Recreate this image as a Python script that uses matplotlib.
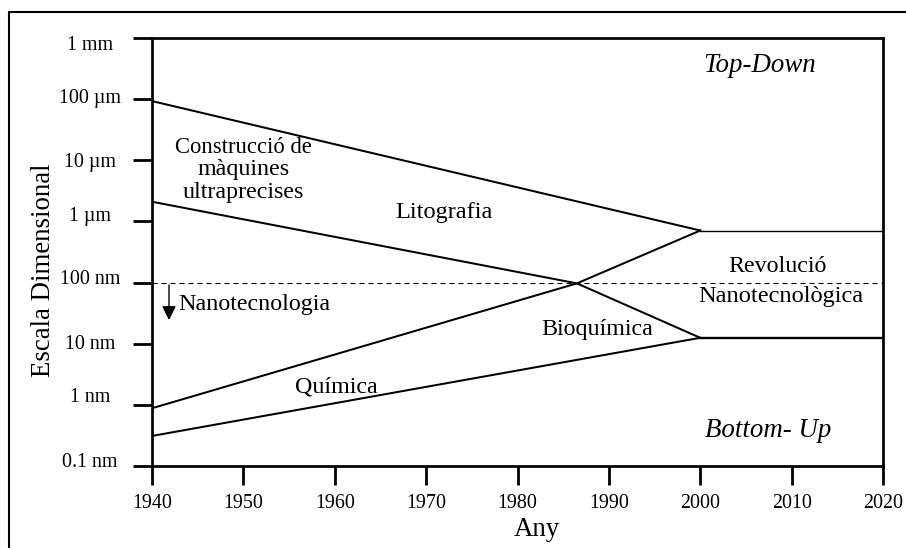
import matplotlib
matplotlib.use("Agg")
import matplotlib.pyplot as plt
import matplotlib.transforms as mtransforms
from matplotlib.lines import Line2D
from matplotlib.ticker import NullLocator

plt.rcParams['font.family'] = ['Liberation Serif', 'DejaVu Serif']

# ---------------- data ----------------
litho_years = [1940, 2000]
litho_nm = [9.3e4, 710]

machining_years = [1940, 1986.5, 2000]
machining_nm = [2100, 97, 12.5]

chem_upper_years = [1940, 1986.5, 2000]
chem_upper_nm = [0.88, 97, 710]

chem_lower_years = [1940, 2000]
chem_lower_nm = [0.31, 12.5]

plateau_years = [2000, 2020]
plateau_top_nm = [710, 710]
plateau_bottom_nm = [12.5, 12.5]

nano_threshold_nm = 100

x_ticks = [1940, 1950, 1960, 1970, 1980, 1990, 2000, 2010, 2020]
y_ticks = [0.1, 1, 10, 100, 1e3, 1e4, 1e5, 1e6]
y_tick_labels = ['0.1 nm', '1 nm', '10 nm', '100 nm', '1 \u00b5m', '10 \u00b5m', '100 \u00b5m', '1 mm']

# ---------------- figure ----------------
W, H = 906, 548
fig = plt.figure(figsize=(W / 100, H / 100), dpi=100)
ax = fig.add_axes([152 / W, 1 - 466 / H, (883 - 152) / W, (466 - 38) / H])
ax.set_yscale('log')
ax.set_xlim(1940, 2020)
ax.set_ylim(0.1, 1e6)

lw = 1.45
ax.plot(litho_years, litho_nm, color='k', lw=lw, solid_joinstyle='miter')
ax.plot(machining_years, machining_nm, color='k', lw=lw, solid_joinstyle='miter')
ax.plot(chem_upper_years, chem_upper_nm, color='k', lw=lw, solid_joinstyle='miter')
ax.plot(chem_lower_years, chem_lower_nm, color='k', lw=lw, solid_joinstyle='miter')
ax.plot(plateau_years, plateau_top_nm, color='k', lw=1.0)
ax.plot(plateau_years, plateau_bottom_nm, color='k', lw=1.7)
ax.axhline(nano_threshold_nm, color='k', lw=0.8, linestyle=(0, (4.5, 3.6)))

# spines & ticks
for s in ax.spines.values():
    s.set_linewidth(1.95)
ax.set_xticks(x_ticks)
ax.set_xticklabels([str(x) for x in x_ticks])
ax.set_yticks(y_ticks)
ax.set_yticklabels(y_tick_labels)
ax.yaxis.set_minor_locator(NullLocator())
ax.tick_params(axis='both', which='major', direction='out', length=13.5, width=2.0,
               labelsize=14.4, colors='k')
ax.tick_params(axis='x', pad=7)
ax.tick_params(axis='y', pad=31)

y_offsets_px = [-6, -10, -2, -6, -7, -0.5, -3.5, 5]
for lab, off in zip(ax.get_yticklabels(), y_offsets_px):
    lab.set_horizontalalignment('center')
    lab.set_transform(lab.get_transform() +
                      mtransforms.ScaledTranslation(0, -off / 100, fig.dpi_scale_trans))

# axis labels
fig.text(50 / W, 1 - 270 / H, 'Escala Dimensional', rotation=90, rotation_mode='anchor',
         ha='center', va='baseline', fontsize=19.4)
fig.text(537 / W, 1 - 536 / H, 'Any', ha='center', va='baseline', fontsize=19.4)

# in-plot annotations
fs = 17.3
ax.text(2006.5, 2.78e5, 'Top-Down', style='italic', ha='center', va='baseline', fontsize=19.4)
ax.text(2007.4, 0.298, 'Bottom- Up', style='italic', ha='center', va='baseline', fontsize=19.4)
ax.text(2008.45, 149, 'Revoluci\u00f3', ha='center', va='baseline', fontsize=fs)
ax.text(2008.8, 48.1, 'Nanotecnol\u00f2gica', ha='center', va='baseline', fontsize=17.6)
ax.text(1971.9, 1137, 'Litografia', ha='center', va='baseline', fontsize=17.6)
ax.text(1950, 13150, 'Construcci\u00f3 de', ha='center', va='baseline', fontsize=16.3)
ax.text(1950, 5745, 'm\u00e0quines', ha='center', va='baseline', fontsize=fs)
ax.text(1950, 2416, 'ultraprecises', ha='center', va='baseline', fontsize=fs)
ax.text(1942.85, 35.6, 'Nanotecnologia', ha='left', va='baseline', fontsize=fs)
ax.text(1960.2, 1.62, 'Qu\u00edmica', ha='center', va='baseline', fontsize=fs)
ax.text(1988.75, 13.9, 'Bioqu\u00edmica', ha='center', va='baseline', fontsize=fs)

ax.annotate('', xy=(1941.86, 24.4), xytext=(1941.86, 91.2),
            arrowprops=dict(arrowstyle='-|>', color='k', lw=1.0,
                            mutation_scale=21, shrinkA=0, shrinkB=0))

# outer frame (left and top edges visible)
fig.add_artist(Line2D([8.5 / W, 8.5 / W, 1.05], [-0.05, 1 - 11.5 / H, 1 - 11.5 / H],
                      transform=fig.transFigure, color='k', lw=1.5))

fig.savefig('out.png', dpi=100, facecolor='white')
